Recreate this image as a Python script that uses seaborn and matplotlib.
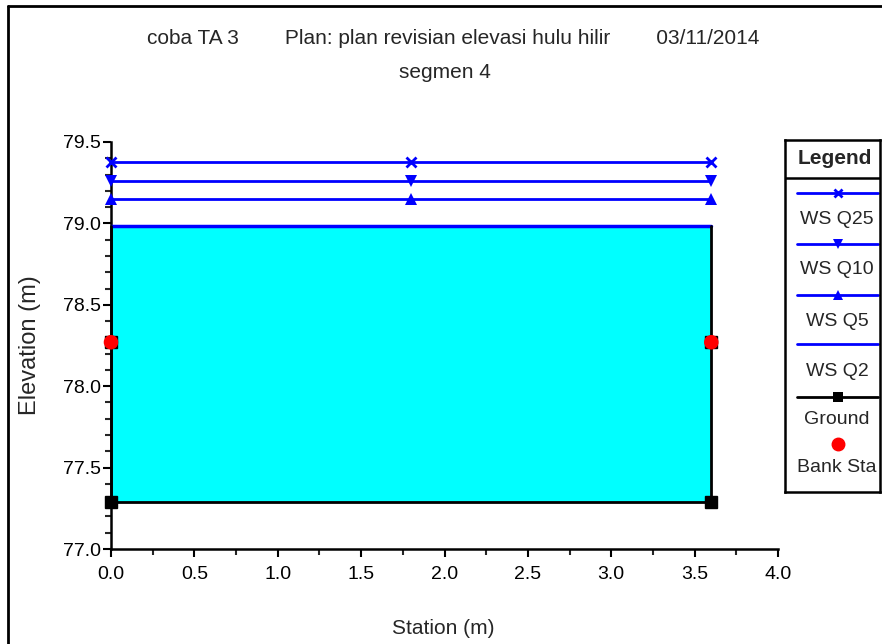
import matplotlib
matplotlib.use("Agg")
import matplotlib.pyplot as plt
import seaborn as sns
import pandas as pd
from matplotlib.lines import Line2D
from matplotlib.ticker import MultipleLocator, FormatStrFormatter

# -----------------------------
# data
# -----------------------------
stations = [0.0, 1.8, 3.6]
ws_q25 = [79.38, 79.38, 79.38]
ws_q10 = [79.26, 79.26, 79.26]
ws_q5 = [79.15, 79.15, 79.15]
ws_q2_sta = [0.0, 3.6]
ws_q2 = [78.985, 78.985]
ground_sta = [0.0, 0.0, 0.0, 3.6, 3.6, 3.6]
ground_elev = [78.985, 78.27, 77.29, 77.29, 78.27, 78.985]
bank_sta = [0.0, 3.6]
bank_elev = [78.27, 78.27]

title_parts = ["coba TA 3", "Plan: plan revisian elevasi hulu hilir", "03/11/2014"]
subtitle = "segmen 4"

W, H = 882, 644
BLUE = "#0000ff"

sns.set_style("ticks")
plt.rcParams["font.family"] = ["Liberation Sans", "DejaVu Sans"]
FS = 14

fig = plt.figure(figsize=(W / 100, H / 100), dpi=100)
ax = fig.add_axes([111 / W, 1 - 549 / H, 667 / W, (549 - 142) / H])

# water fill (WS Q2 down to ground)
ax.fill_between(ws_q2_sta, ws_q2, [min(ground_elev)] * len(ws_q2_sta),
                color="#00ffff", linewidth=0, zorder=1)

# water surface lines
ws = pd.DataFrame({"station": stations, "Q25": ws_q25, "Q10": ws_q10, "Q5": ws_q5})
for col, mk, ms in [("Q25", "x", 7), ("Q10", "v", 8), ("Q5", "^", 8)]:
    sns.lineplot(data=ws, x="station", y=col, ax=ax, color=BLUE, lw=2,
                 marker=mk, markersize=ms, markeredgewidth=2 if mk == "x" else 0,
                 markeredgecolor=BLUE, clip_on=False, zorder=3)
sns.lineplot(x=ws_q2_sta, y=ws_q2, ax=ax, color=BLUE, lw=2.5, zorder=3)

# ground
ax.plot(ground_sta, ground_elev, color="black", lw=2, marker="s", markersize=8,
        markevery=[1, 2, 3, 4], clip_on=False, zorder=4)

# bank stations
sns.scatterplot(x=bank_sta, y=bank_elev, ax=ax, color="red", s=110, marker="o",
                edgecolor="none", clip_on=False, zorder=5)

ax.set_xlim(0, 4)
ax.set_ylim(77, 79.5)
ax.xaxis.set_major_locator(MultipleLocator(0.5))
ax.xaxis.set_minor_locator(MultipleLocator(0.25))
ax.yaxis.set_major_locator(MultipleLocator(0.5))
ax.yaxis.set_minor_locator(MultipleLocator(0.1))
ax.xaxis.set_major_formatter(FormatStrFormatter("%.1f"))
ax.yaxis.set_major_formatter(FormatStrFormatter("%.1f"))
ax.tick_params(which="major", length=6, width=1.5, direction="out", labelsize=FS,
               colors="black")
ax.tick_params(axis="y", which="major", pad=1)
ax.tick_params(axis="x", which="major", pad=6)
ax.tick_params(which="minor", length=4, width=1.5, direction="out")
sns.despine(ax=ax)
for s in ["left", "bottom"]:
    ax.spines[s].set_linewidth(1.8)
    ax.spines[s].set_color("black")

ax.set_xlabel("Station (m)", fontsize=FS + 1)
ax.set_ylabel("Elevation (m)", fontsize=FS + 3)
ax.xaxis.set_label_coords((443 - 111) / 667, -(619 - 549) / 407)
ax.yaxis.set_label_coords(-(111 - 41) / 667, 0.5)

# titles
gap = " " * 8
fig.text(453 / W, 1 - 38 / H, gap.join(title_parts), ha="center", va="center",
         fontsize=FS + 1)
fig.text(445 / W, 1 - 72 / H, subtitle, ha="center", va="center", fontsize=FS + 1)

# figure frame (left and top edges visible)
fig.add_artist(Line2D([8 / W, 8 / W], [0, 1 - 6 / H], color="black", lw=2,
                      transform=fig.transFigure))
fig.add_artist(Line2D([8 / W, 1], [1 - 6 / H, 1 - 6 / H], color="black", lw=2,
                      transform=fig.transFigure))

# -----------------------------
# legend box, drawn by hand
# -----------------------------
lax = fig.add_axes([785 / W, 1 - 492 / H, 95 / W, 352 / H])
lax.set_xlim(0, 95)
lax.set_ylim(352, 0)
lax.set_xticks([])
lax.set_yticks([])
lax.set_facecolor("white")
for s in lax.spines.values():
    s.set_visible(True)
    s.set_linewidth(1.8)
    s.set_color("black")

lax.text(50, 18, "Legend", ha="center", va="center", fontsize=FS + 1, fontweight="bold")
lax.plot([0, 95], [38, 38], color="black", lw=1.8)

entries = [
    ("WS Q25", BLUE, "x", 53, 80),
    ("WS Q10", BLUE, "v", 104, 130),
    ("WS Q5", BLUE, "^", 155, 182),
    ("WS Q2", BLUE, None, 204, 232),
    ("Ground", "black", "s", 257, 280),
]
for label, c, mk, ly, ty in entries:
    lax.plot([12, 93], [ly, ly], color=c, lw=2)
    if mk:
        lax.plot([53], [ly], color=c, marker=mk, markersize=7 if mk != "x" else 6,
                 markeredgewidth=2 if mk == "x" else 0, markeredgecolor=c)
    lax.text(52, ty, label, ha="center", va="center", fontsize=FS)
lax.plot([53], [304], "o", color="red", markersize=9)
lax.text(52, 328, "Bank Sta", ha="center", va="center", fontsize=FS)

fig.savefig("out.png", dpi=100)
